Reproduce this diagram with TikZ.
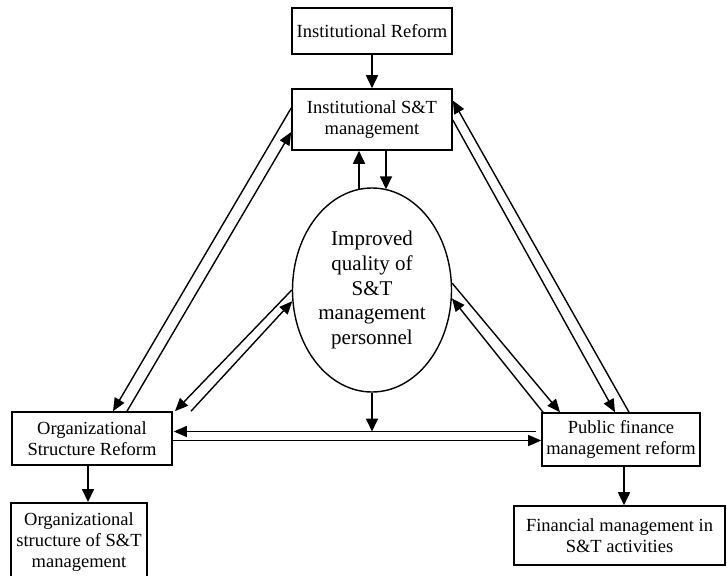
\documentclass[tikz,border=0pt]{standalone}
\usepackage{fontspec}
\setmainfont{Liberation Serif}
\usetikzlibrary{arrows.meta,shapes.geometric,calc}
\begin{document}
\begin{tikzpicture}[x=1pt,y=-1pt,
 box/.style={draw,line width=1.6pt,inner sep=0pt,align=center,font=\fontsize{18.5}{21}\selectfont},
 arr/.style={-{Triangle[length=13pt,width=12pt]},line width=1.7pt},
 darr/.style={-{Triangle[length=13pt,width=11pt]},line width=1.4pt}]
\path[use as bounding box] (0,0) rectangle (727,575);
\clip (0,0) rectangle (727,575);

\node[box,minimum width=160pt,minimum height=46pt] (ir) at (372,31) {Institutional Reform};
\node[box,minimum width=160pt,minimum height=61pt] (ist) at (372,119.5) {Institutional S\&T\\management};
\node[draw,ellipse,line width=1.4pt,inner sep=0pt,minimum width=159pt,minimum height=204pt,align=center,font=\fontsize{21}{24.6}\selectfont] (ell) at (372,290) {Improved\\quality of\\S\&T\\management\\personnel};
\node[box,minimum width=160pt,minimum height=53pt] (osr) at (92,438.5) {Organizational\\Structure Reform};
\node[box,minimum width=158pt,minimum height=53pt] (pfm) at (621,439.5) {Public finance\\management reform};
\node[box,minimum width=136pt,minimum height=78pt,anchor=north] (ors) at (79,502) {Organizational\\structure of S\&T\\management};
\node[box,minimum width=211pt,minimum height=59pt] (fin) at (619.5,535.5) {Financial management in\\S\&T activities};

\draw[arr] (ir.south) -- (ir.south |- ist.north);
\draw[arr] ([xshift=-13pt,yshift=-3pt]ell.north) -- ([xshift=-13pt]ist.south);
\draw[arr] ([xshift=14pt]ist.south) -- ([xshift=14pt,yshift=-2pt]ell.north);

\coordinate (hu) at (0,431.5);
\coordinate (hl) at (0,440.5);
\draw[arr] (ell.south) -- (ell.south |- hu);
\draw[darr] ($(pfm.west |- hu)+(-5,0)$) -- ($(osr.east |- hu)+(1,0)$);
\draw[darr] (osr.east |- hl) -- (pfm.west |- hl);

\draw[darr] ([yshift=11.5pt]ist.west) -- ([xshift=21pt]osr.north);
\draw[darr] ([xshift=35pt]osr.north) -- ([yshift=-12.5pt]ist.west);
\draw[darr] ([yshift=-0.5pt]ist.east) -- ([xshift=-6pt]pfm.north);
\draw[darr] ([xshift=8pt]pfm.north) -- ([yshift=19pt]ist.east);

\draw[darr] (ell.west) -- ([xshift=83pt]osr.north);
\draw[darr] ([xshift=99pt]osr.north) -- (ell.188);
\draw[darr] (ell.5) -- ([xshift=-61pt]pfm.north);
\draw[darr] ([xshift=-78pt]pfm.north) -- (ell.-6);

\coordinate (a1) at ($(osr.south)+(-4,0)$);
\draw[arr] (a1) -- (a1 |- ors.north);
\coordinate (a2) at ($(pfm.south)+(3,0)$);
\draw[arr] (a2) -- (a2 |- fin.north);
\end{tikzpicture}
\end{document}
